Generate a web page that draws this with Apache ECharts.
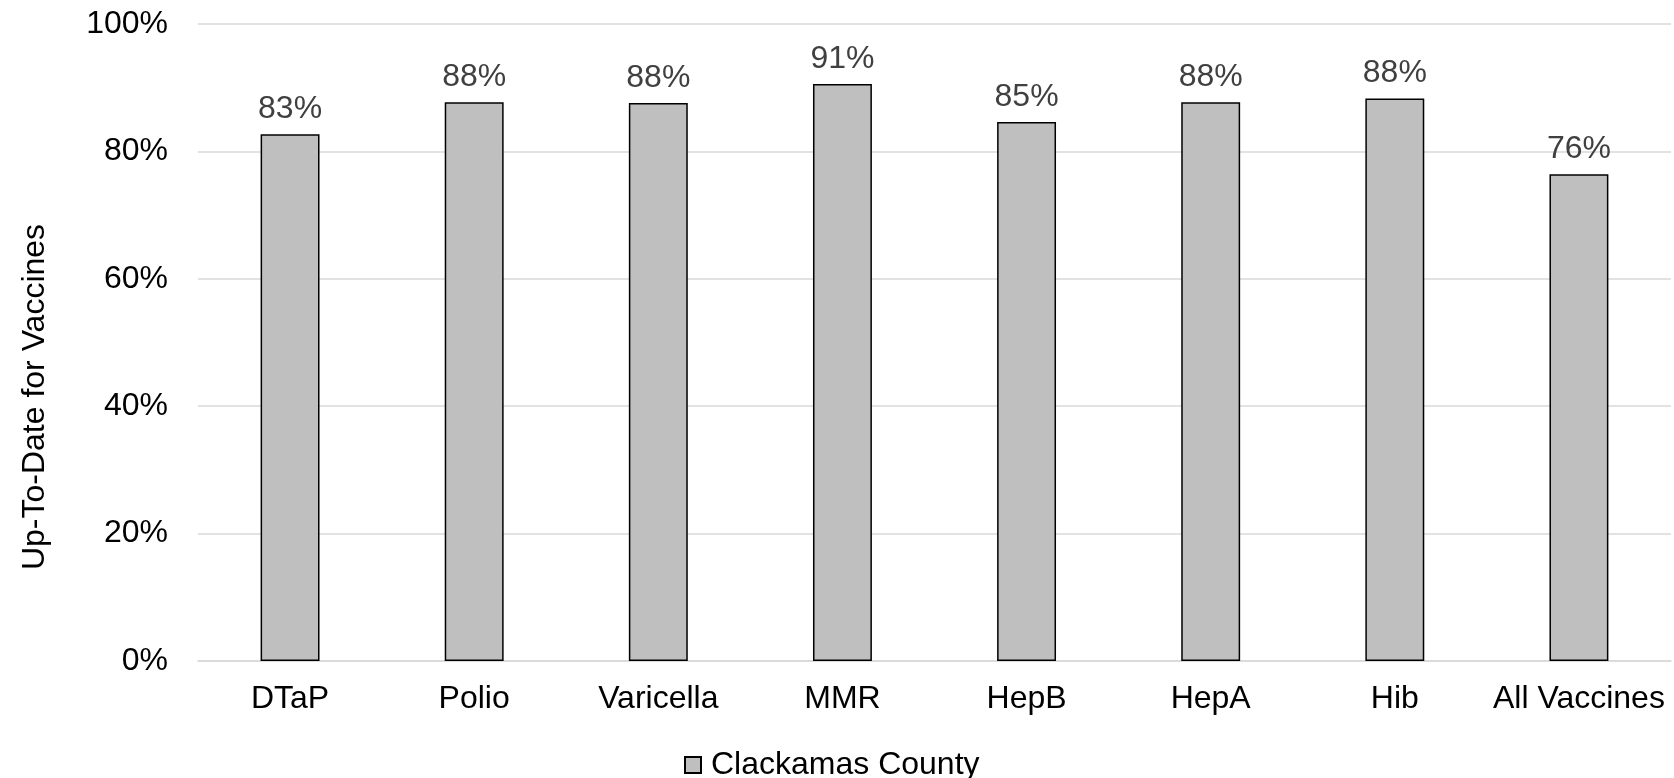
<!DOCTYPE html>
<html>
<head>
<meta charset="utf-8">
<script src="https://cdn.jsdelivr.net/npm/echarts@6/dist/echarts.min.js"></script>
<style>
    html, body { margin: 0; padding: 0; background: #fff; }
    #chart { width: 1674px; height: 778px; }
</style>
</head>
<body>
<div id="chart"></div>
<script>
// vaccine coverage
var categories = ['DTaP', 'Polio', 'Varicella', 'MMR', 'HepB', 'HepA', 'Hib', 'All Vaccines'];
var county = [82.7, 87.7, 87.6, 90.6, 84.6, 87.7, 88.3, 76.4];
var yTicks = [0, 20, 40, 60, 80, 100];
var seriesName = 'Clackamas County';
var yTitle = 'Up-To-Date for Vaccines';

var font = 'Liberation Sans, Arial, sans-serif';
var fsize = 32;

var chart = echarts.init(document.getElementById('chart'));
var option = {
    animation: false,
    grid: {
        left: 198,
        right: 3,
        top: 24,
        bottom: 117
    },
    legend: {
        data: [seriesName],
        top: 744,
        left: 679,
        itemWidth: 16,
        itemHeight: 16,
        icon: 'rect',
        textStyle: {
            fontFamily: font,
            fontSize: fsize,
            color: '#000',
            padding: [0, 0, 0, 5]
        }
    },
    xAxis: {
        type: 'category',
        data: categories,
        axisLine: { lineStyle: { color: '#d9d9d9', width: 1.5 } },
        axisTick: { show: false },
        axisLabel: {
            interval: 0,
            margin: 22,
            fontFamily: font,
            fontSize: fsize,
            color: '#000'
        }
    },
    yAxis: {
        type: 'value',
        min: yTicks[0],
        max: yTicks[yTicks.length - 1],
        interval: 20,
        axisLine: { show: false },
        axisTick: { show: false },
        splitLine: { lineStyle: { color: '#d9d9d9', width: 1.5 } },
        axisLabel: {
            margin: 30,
            fontFamily: font,
            fontSize: fsize,
            color: '#000',
            formatter: '{value}%'
        }
    },
    graphic: [{
        type: 'text',
        x: 35,
        y: 397,
        rotation: Math.PI / 2,
        style: {
            text: yTitle,
            fontFamily: font,
            fontSize: fsize,
            fill: '#000',
            align: 'center',
            verticalAlign: 'middle'
        }
    }],
    series: [{
        name: seriesName,
        type: 'bar',
        data: county,
        barWidth: '32%',
        itemStyle: {
            color: '#bfbfbf',
            borderColor: '#000',
            borderWidth: 1.5
        },
        label: {
            show: true,
            position: 'top',
            distance: 9,
            fontFamily: font,
            fontSize: fsize,
            color: '#404040',
            formatter: function (p) {
                return Math.round(p.value) + '%';
            }
        }
    }]
};
chart.setOption(option);
</script>
</body>
</html>
